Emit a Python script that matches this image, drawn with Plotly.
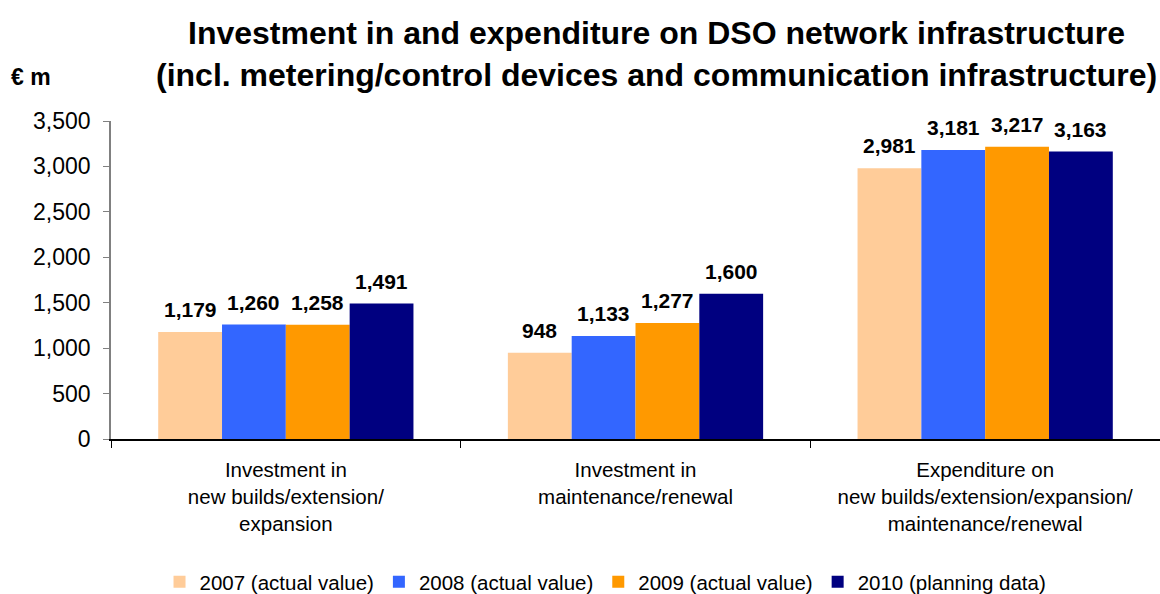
import plotly.graph_objects as go

# Categories (x axis) and yearly series, € m
categories = [
    "Investment in<br>new builds/extension/<br>expansion",
    "Investment in<br>maintenance/renewal",
    "Expenditure on<br>new builds/extension/expansion/<br>maintenance/renewal",
]
series_names = [
    "2007 (actual value)",
    "2008 (actual value)",
    "2009 (actual value)",
    "2010 (planning data)",
]
values_2007 = [1179, 948, 2981]
values_2008 = [1260, 1133, 3181]
values_2009 = [1258, 1277, 3217]
values_2010 = [1491, 1600, 3163]
series_values = [values_2007, values_2008, values_2009, values_2010]
colors = ["#FFCC99", "#3366FF", "#FF9900", "#000080"]

y_ticks = [0, 500, 1000, 1500, 2000, 2500, 3000, 3500]

FONT = "Liberation Sans, Arial, sans-serif"
BARGAP = 0.27

fig = go.Figure()
for name, vals, col in zip(series_names, series_values, colors):
    fig.add_trace(go.Bar(
        name=name, x=categories, y=vals,
        marker=dict(color=col, line=dict(width=0)),
    ))

# Value labels above each bar, positioned on the category index scale
n = len(series_values)
bar_w = (1 - BARGAP) / n
for i, vals in enumerate(series_values):
    for j, v in enumerate(vals):
        fig.add_annotation(
            x=j + (i - (n - 1) / 2) * bar_w, y=v,
            xref="x", yref="y",
            text=f"<b>{v:,}</b>", showarrow=False,
            yanchor="bottom", yshift=9,
            font=dict(family=FONT, size=21, color="#000000"),
        )

# Unit label
fig.add_annotation(
    xref="paper", yref="paper", x=0, y=1,
    xshift=-102, yshift=44, xanchor="left", yanchor="middle",
    text="<b>€ m</b>", showarrow=False,
    font=dict(family=FONT, size=23, color="#000000"),
)

fig.update_layout(
    width=1160, height=594,
    margin=dict(l=111, r=0, t=121, b=155),
    paper_bgcolor="white", plot_bgcolor="white",
    barmode="group", bargap=BARGAP, bargroupgap=0,
    font=dict(family=FONT, size=20, color="#000000"),
    title=dict(
        text="<b>Investment in and expenditure on DSO network infrastructure<br>"
             "(incl. metering/control devices and communication infrastructure)</b>",
        x=0.566, xanchor="center", xref="container",
        y=1 - 44 / 594, yanchor="middle", yref="container",
        font=dict(family=FONT, size=32, color="#000000"),
    ),
    xaxis=dict(
        showgrid=False, showline=True, linecolor="#000000", linewidth=1.5,
        ticks="outside", ticklen=7, tickcolor="#000000", tickson="boundaries",
        tickfont=dict(family=FONT, size=20.5, color="#000000"),
        ticklabelstandoff=12,
    ),
    yaxis=dict(
        range=[0, 3500], tickvals=y_ticks, tickformat=",",
        showgrid=False, zeroline=False,
        showline=True, linecolor="#808080", linewidth=1.5,
        ticks="outside", ticklen=6, tickcolor="#808080",
        tickfont=dict(family=FONT, size=23, color="#000000"),
        ticklabelstandoff=8,
    ),
    legend=dict(
        orientation="h", x=0.522, xanchor="center", xref="container",
        y=1 - 582 / 594, yanchor="middle", yref="container",
        font=dict(family=FONT, size=20.5, color="#000000"),
        itemwidth=30, tracegroupgap=0,
    ),
)

fig.write_html("out.html")
